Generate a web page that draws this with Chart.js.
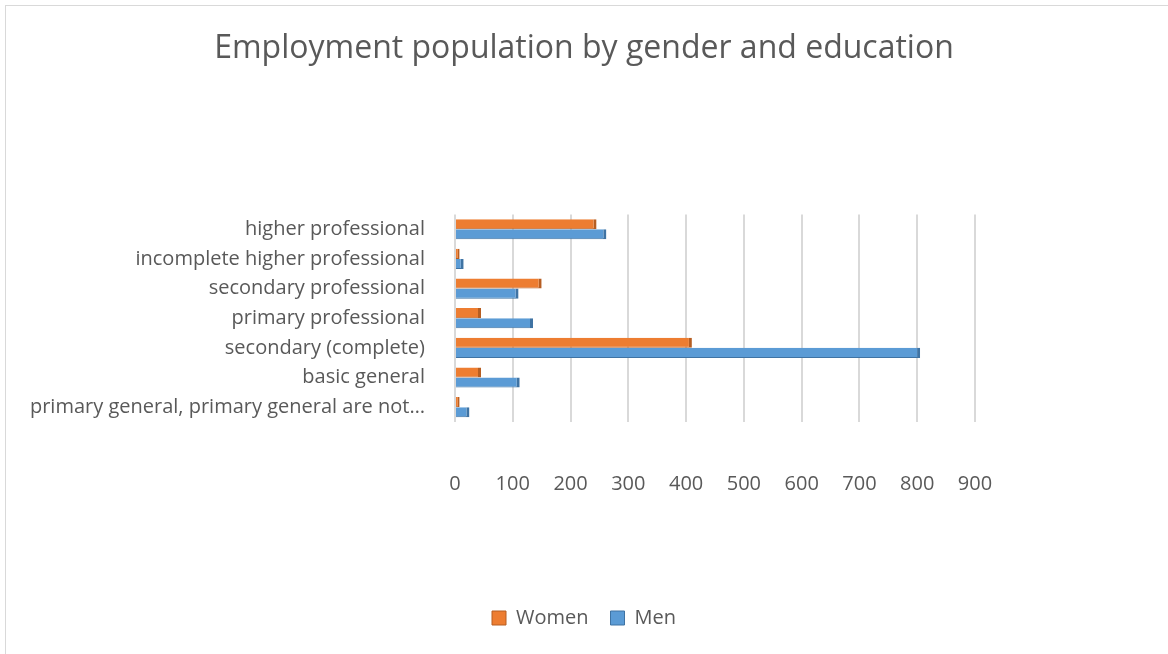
<!DOCTYPE html>
<html>
<head>
<meta charset="utf-8">
<script src="https://cdn.jsdelivr.net/npm/chart.js@4.4.1/dist/chart.umd.min.js"></script>
<style>
  html, body { margin: 0; padding: 0; background: #fff; }
  #wrap { position: relative; width: 1168px; height: 654px; }
  #frame { position: absolute; left: 5px; top: 5px; width: 1170px; height: 660px; border: 1px solid #d9d9d9; box-sizing: border-box; }
  canvas { position: absolute; left: 0; top: 0; }
</style>
</head>
<body>
<div id="wrap">
  <div id="frame"></div>
  <canvas id="employment" width="1168" height="654"></canvas>
</div>
<script>
// Education levels, listed top to bottom
const educationLevels = [
    'higher professional',
    'incomplete higher professional',
    'secondary professional',
    'primary professional',
    'secondary (complete)',
    'basic general',
    'primary general, primary general are not\u2026',
];
const womenEmployed = [245, 8, 150, 45, 410, 45, 8];
const menEmployed = [262, 15, 110, 135, 805, 112, 25];
const xTicks = [0, 100, 200, 300, 400, 500, 600, 700, 800, 900];

const textColor = '#595959';
const fontFamily = '"Open Sans", "Liberation Sans", sans-serif';

const employmentChart = new Chart(document.getElementById('employment'), {
    type: 'bar',
    data: {
        labels: educationLevels,
        datasets: [{
            label: 'Women',
            data: womenEmployed,
            backgroundColor: '#ED7D31',
            borderColor: '#B65E22',
            borderWidth: {top: 0, left: 0, right: 3, bottom: 1},
            borderSkipped: false,
            barPercentage: 1.0,
            categoryPercentage: 0.68,
        }, {
            label: 'Men',
            data: menEmployed,
            backgroundColor: '#5B9BD5',
            borderColor: '#3F73A3',
            borderWidth: {top: 0, left: 0, right: 3, bottom: 1},
            borderSkipped: false,
            barPercentage: 1.0,
            categoryPercentage: 0.68,
        }]
    },
    options: {
        indexAxis: 'y',
        responsive: false,
        animation: false,
        layout: {padding: {left: 0, right: 0, top: 0, bottom: 16}},
        plugins: {
            title: {
                display: true,
                text: 'Employment population by gender and education',
                color: textColor,
                font: {family: fontFamily, size: 32, weight: 'normal'},
                padding: {top: 30, bottom: 146},
            },
            legend: {
                position: 'bottom',
                labels: {
                    color: textColor,
                    font: {family: fontFamily, size: 20},
                    boxWidth: 14,
                    boxHeight: 14,
                    padding: 22,
                },
            },
            tooltip: {enabled: false},
        },
        scales: {
            x: {
                min: 0,
                max: 900,
                afterBuildTicks: scale => {
                    scale.ticks = xTicks.map(v => ({value: v}));
                },
                afterFit: scale => { scale.height = 164; },
                grid: {color: '#d9d9d9', lineWidth: 2, drawTicks: false},
                border: {display: false},
                ticks: {
                    color: textColor,
                    font: {family: fontFamily, size: 20},
                    padding: 50,
                },
            },
            y: {
                afterFit: scale => { scale.width = 455; },
                grid: {display: false},
                border: {display: false},
                ticks: {
                    color: textColor,
                    font: {family: fontFamily, size: 20},
                    padding: 22,
                    autoSkip: false,
                },
            },
            // empty strip on the right so the plot ends near 975px
            spacer: {
                axis: 'y',
                position: 'right',
                afterFit: scale => { scale.width = 193; },
                grid: {display: false},
                border: {display: false},
                ticks: {display: false},
            },
        },
    },
});
</script>
</body>
</html>
